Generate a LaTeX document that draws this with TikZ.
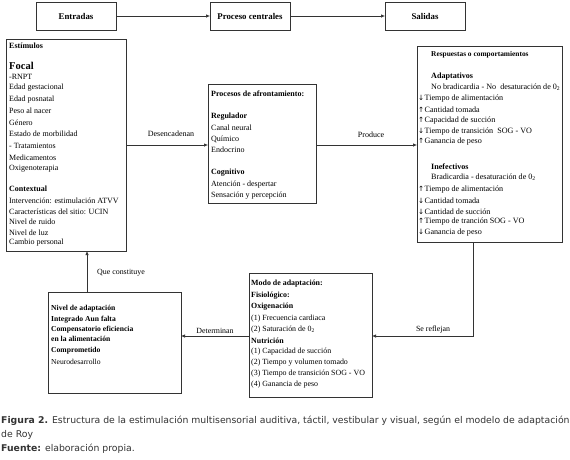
\documentclass[tikz,border=0pt]{standalone}
\usepackage{fontspec}
\setmainfont{Liberation Serif}
\newfontfamily\capfont{DejaVu Sans}
\newfontfamily\symf{DejaVu Sans}
\usetikzlibrary{arrows.meta}
\newcommand\fsz{\fontsize{8}{10}\selectfont}
\newcommand\fszr{\fontsize{8.1}{10}\selectfont}
\newcommand\fszm{\fontsize{7.9}{10}\selectfont}
\newcommand\fszn{\fontsize{7.6}{9}\selectfont}
\newcommand\ua{\makebox[6.5pt][l]{{\symf\fontsize{7.2}{8}\selectfont ↑}}}
\newcommand\da{\makebox[6.5pt][l]{{\symf\fontsize{7.2}{8}\selectfont ↓}}}
\newcommand\ot{0\textsubscript{2}}
\definecolor{ln}{HTML}{333333}
\definecolor{capc}{HTML}{333333}
\tikzset{
  box/.style={draw=ln, line width=0.7pt, rectangle, inner sep=0pt, outer sep=0pt, anchor=north west},
  tl/.style={anchor=west, inner sep=0pt, font=\fsz, text=black},
  lab/.style={inner sep=0pt, font=\fsz, text=black},
  arr/.style={-{Latex[length=4pt,width=3.4pt]}, line width=0.6pt, draw=ln},
  capt/.style={anchor=west, inner sep=0pt, text=capc, font=\capfont\fontsize{9.3}{11}\selectfont},
  topbox/.style={box, minimum width=80pt, minimum height=28pt, font=\fontsize{8.8}{10}\selectfont\bfseries},
}
\begin{document}
\begin{tikzpicture}[x=1pt,y=-1pt]
\fill[white] (0,0) rectangle (570,459);
\useasboundingbox (0,0) rectangle (570,459);

% top row
\node[topbox] (entr) at (36,2) {Entradas};
\node[topbox] (proc) at (210,2) {Proceso centrales};
\node[topbox] (sal) at (385,2) {Salidas};
\draw[arr] (entr) -- (proc);
\draw[arr] (proc) -- (sal);

% boxes
\node[box, minimum width=120pt, minimum height=212pt] (stim) at (6,39) {};
\node[box, minimum width=108pt, minimum height=119pt] (afr) at (208,84) {};
\node[box, minimum width=145pt, minimum height=196pt] (resp) at (417,46) {};
\node[box, minimum width=123pt, minimum height=124pt] (modo) at (249,273) {};
\node[box, minimum width=133pt, minimum height=101pt] (niv) at (48,292) {};

% stimulus text
\foreach \y/\t [count=\i] in {46/{\bfseries Estímulos}, 66/{\fontsize{10.5}{11}\selectfont\bfseries Focal}, 77/-RNPT, 88/Edad gestacional, 99.5/Edad posnatal, 111/Peso al nacer, 122.5/Género, 134/Estado de morbilidad, 146/- Tratamientos, 157.5/Medicamentos, 169/Oxigenoterapia, 189/{\bfseries Contextual}, 200.5/Intervención: estimulación ATVV, 211.5/Características del sitio: UCIN, 222/Nivel de ruido, 232.5/Nivel de luz, 243/Cambio personal}
  \node[tl] (st\i) at (9,\y) {\t};

% afrontamiento text
\foreach \y/\t [count=\i] in {94/{\bfseries Procesos de afrontamiento:}, 117/{\bfseries Regulador}, 128/Canal neural, 139/Químico, 150/Endocrino, 173/{\bfseries Cognitivo}, 184.5/Atención - despertar, 196/Sensación y percepción}
  \node[tl] (af\i) at (211,\y) {\t};

% respuestas text
\foreach \y/\t [count=\i] in {55/{\fontsize{7.4}{9}\selectfont\bfseries Respuestas o comportamientos}, 77/{\bfseries Adaptativos}, 87.5/No bradicardia - No\ \ desaturación de \ot, 167/{\bfseries Inefectivos}, 177.5/Bradicardia - desaturación de \ot}
  \node[tl, font=\fszr] (rh\i) at (431,\y) {\t};
\foreach \y/\t [count=\i] in {99/\da Tiempo de alimentación, 110/\ua Cantidad tomada, 121/\ua Capacidad de succión, 131.5/\da Tiempo de transición\ \ SOG - VO, 142/\ua Ganancia de peso, 189.5/\ua Tiempo de alimentación, 200.5/\da Cantidad tomada, 211.5/\da Cantidad de succión, 222/\ua Tiempo de tranción SOG - VO, 233/\da Ganancia de peso}
  \node[tl, font=\fszr] (ra\i) at (418,\y) {\t};

% modo text
\foreach \y/\t [count=\i] in {284/{\bfseries Modo de adaptación:}, 295.5/{\bfseries Fisiológico:}, 307/{\bfseries Oxigenación}, 318.5/(1) Frecuencia cardiaca, 329.5/(2) Saturación de \ot, 340.5/{\bfseries Nutrición}, 352/(1) Capacidad de succión, 363/(2) Tiempo y volumen tomado, 374/(3) Tiempo de transición SOG - VO, 385/(4) Ganancia de peso}
  \node[tl, font=\fszm] (mo\i) at (251,\y) {\t};

% nivel text
\foreach \y/\t [count=\i] in {309/{\bfseries Nivel de adaptación}, 320/{\bfseries Integrado Aun falta}, 330/{\bfseries Compensatorio eficiencia}, 339/{\bfseries en la alimentación}, 351/{\bfseries Comprometido}, 361.5/Neurodesarrollo}
  \node[tl, font=\fszn] (ni\i) at (51,\y) {\t};

% connectors
\coordinate (ya) at (0,145);
\draw[arr] (stim.east |- ya) -- (afr.west |- ya);
\node[lab] (desc) at (171,134) {Desencadenan};
\draw[arr] (afr.east |- ya) -- (resp.west |- ya);
\node[lab] (prod) at (371,135) {Produce};

\coordinate (xr) at (473,0);
\coordinate (yr) at (0,336);
\draw[arr] (resp.south -| xr) -- (xr |- yr) -- (modo.east |- yr);
\node[lab, font=\fszm] (refl) at (433,330) {Se reflejan};
\draw[arr] (modo.west |- yr) -- (niv.east |- yr);
\node[lab, font=\fszm] (det) at (215,330.5) {Determinan};

\coordinate (xq) at (87,0);
\draw[arr] (niv.north -| xq) -- (stim.south -| xq);
\node[lab, font=\fszm] (qc) at (121,272.5) {Que constituye};

% caption
\node[capt] (cap1) at (1,421) {\textbf{Figura 2.} Estructura de la estimulación multisensorial auditiva, táctil, vestibular y visual, según el modelo de adaptación};
\node[capt] (cap2) at (1,434.5) {de Roy};
\node[capt] (cap3) at (1,448.5) {\textbf{Fuente:} elaboración propia.};
\end{tikzpicture}
\end{document}
